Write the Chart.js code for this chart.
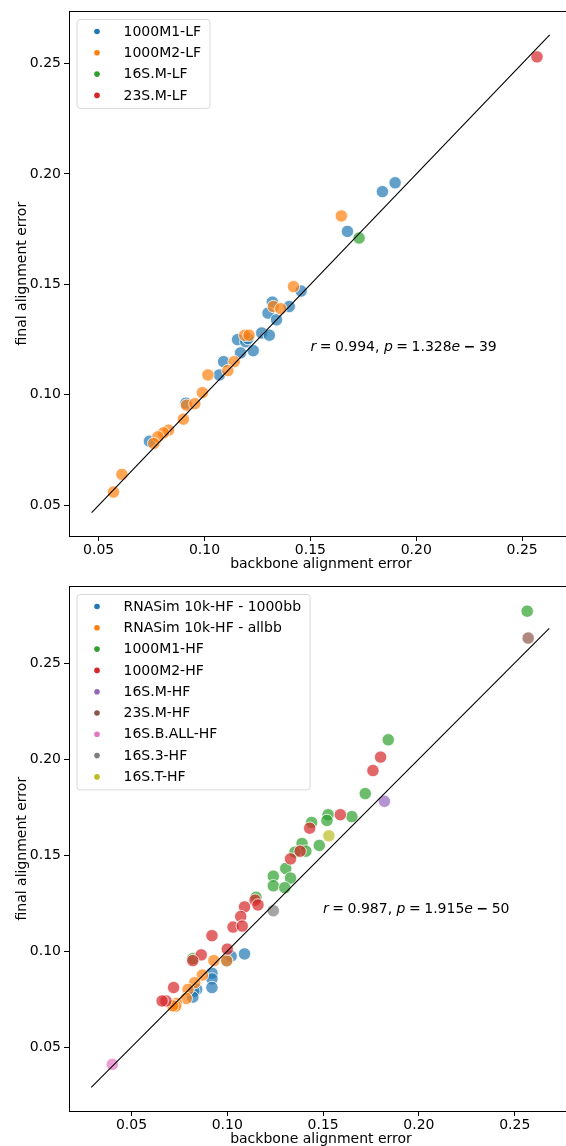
<!DOCTYPE html>
<html>
<head>
<meta charset="utf-8">
<script src="https://cdn.jsdelivr.net/npm/chart.js@4.4.1/dist/chart.umd.min.js"></script>
<style>
  html, body { margin: 0; padding: 0; background: #fff; overflow: hidden; }
  .panel { position: absolute; left: 0; width: 580px; height: 573px; }
  #p1 { top: 0; }
  #p2 { top: 575px; }
</style>
</head>
<body>
<div class="panel" id="p1"><canvas id="c1" width="580" height="573"></canvas></div>
<div class="panel" id="p2"><canvas id="c2" width="580" height="573"></canvas></div>
<script>
const tab10 = ['#1f77b4', '#ff7f0e', '#2ca02c', '#d62728', '#9467bd', '#8c564b', '#e377c2', '#7f7f7f', '#bcbd22'];
const axisTicks = [0.05, 0.10, 0.15, 0.20, 0.25];

// ---- top panel (LF) ----
const lfNames = ['1000M1-LF', '1000M2-LF', '16S.M-LF', '23S.M-LF'];
const lf1000M1 = [[0.190, 0.196], [0.184, 0.192], [0.1675, 0.174], [0.1456, 0.147], [0.132, 0.142], [0.140, 0.140],
  [0.130, 0.137], [0.134, 0.134], [0.127, 0.128], [0.1306, 0.127], [0.1156, 0.125], [0.1195, 0.124], [0.1205, 0.1255],
  [0.123, 0.120], [0.117, 0.119], [0.109, 0.115], [0.107, 0.109], [0.0912, 0.0962], [0.074, 0.079]];
const lf1000M2 = [[0.1646, 0.181], [0.142, 0.149], [0.1325, 0.140], [0.136, 0.139], [0.119, 0.127], [0.121, 0.127],
  [0.114, 0.115], [0.111, 0.111], [0.1016, 0.109], [0.099, 0.101], [0.0915, 0.0953], [0.0954, 0.096], [0.090, 0.089],
  [0.083, 0.084], [0.0806, 0.0828], [0.078, 0.081], [0.076, 0.078], [0.061, 0.064], [0.057, 0.056]];
const lf16SM = [[0.173, 0.171]];
const lf23SM = [[0.257, 0.253]];
const lfLine = [0.0467, 0.263];
const lfXRange = [0.036, 0.274];
const lfYRange = [0.0361, 0.2736];
const lfStat = ['0.994', '1.328', '39'];

// ---- bottom panel (HF) ----
const hfNames = ['RNASim 10k-HF - 1000bb', 'RNASim 10k-HF - allbb', '1000M1-HF', '1000M2-HF', '16S.M-HF',
  '23S.M-HF', '16S.B.ALL-HF', '16S.3-HF', '16S.T-HF'];
const hfRna1000 = [[0.109, 0.0985], [0.102, 0.0973], [0.0997, 0.0947], [0.092, 0.0885], [0.092, 0.0855], [0.092, 0.081],
  [0.084, 0.080], [0.0825, 0.079], [0.082, 0.076]];
const hfRnaAll = [[0.0997, 0.095], [0.093, 0.095], [0.087, 0.0875], [0.083, 0.0835], [0.0795, 0.080], [0.0786, 0.0753],
  [0.0735, 0.0727], [0.073, 0.0712], [0.0715, 0.0715]];
const hf1000M1 = [[0.2565, 0.277], [0.184, 0.210], [0.172, 0.182], [0.165, 0.170], [0.1526, 0.171], [0.152, 0.168],
  [0.144, 0.167], [0.148, 0.155], [0.139, 0.156], [0.141, 0.152], [0.1353, 0.1515], [0.1305, 0.143], [0.124, 0.139],
  [0.133, 0.138], [0.124, 0.134], [0.130, 0.133], [0.115, 0.128], [0.082, 0.096]];
const hf1000M2 = [[0.180, 0.201], [0.176, 0.194], [0.159, 0.171], [0.143, 0.164], [0.138, 0.152], [0.133, 0.148],
  [0.1145, 0.1265], [0.116, 0.124], [0.109, 0.123], [0.107, 0.118], [0.103, 0.1125], [0.1078, 0.113], [0.092, 0.108],
  [0.100, 0.101], [0.0864, 0.098], [0.082, 0.095], [0.072, 0.081], [0.068, 0.074], [0.066, 0.074]];
const hf16SM = [[0.182, 0.178]];
const hf23SM = [[0.257, 0.263]];
const hf16SBAll = [[0.040, 0.041]];
const hf16S3 = [[0.124, 0.121]];
const hf16ST = [[0.153, 0.160]];
const hfLine = [0.029, 0.268];
const hfXRange = [0.0174, 0.2804];
const hfYRange = [0.0167, 0.2899];
const hfStat = ['0.987', '1.915', '50'];

const FONT = '"DejaVu Sans", sans-serif';

function withAlpha(hex, a) {
  const n = parseInt(hex.slice(1), 16);
  return `rgba(${(n >> 16) & 255},${(n >> 8) & 255},${n & 255},${a})`;
}

// framed legend in the upper left, like matplotlib's
const boxLegend = {
  id: 'boxLegend',
  afterDraw(chart, args, opts) {
    const ctx = chart.ctx;
    ctx.save();
    ctx.font = '14px ' + FONT;
    const textX = 123.5;
    const maxW = Math.max(...opts.names.map(n => ctx.measureText(n).width));
    const x0 = 77, y0 = 19.5, rowH = 21.3;
    const w = textX + maxW + 9 - x0;
    const h = (opts.names.length - 1) * rowH + 25;
    ctx.fillStyle = 'rgba(255,255,255,0.8)';
    ctx.strokeStyle = '#d9d9d9';
    ctx.lineWidth = 1;
    ctx.beginPath();
    ctx.roundRect(x0, y0, w, h, 3);
    ctx.fill();
    ctx.stroke();
    ctx.textBaseline = 'middle';
    opts.names.forEach((name, i) => {
      const cy = y0 + 12 + i * rowH;
      ctx.fillStyle = tab10[i];
      ctx.beginPath();
      ctx.arc(97, cy, 2.8, 0, Math.PI * 2);
      ctx.fill();
      ctx.fillStyle = '#000';
      ctx.fillText(name, textX, cy + 0.5);
    });
    ctx.restore();
  }
};

// r / p annotation plus the top frame line
const statText = {
  id: 'statText',
  afterDraw(chart, args, opts) {
    const {ctx, chartArea, scales} = chart;
    ctx.save();
    ctx.strokeStyle = '#000';
    ctx.lineWidth = 1;
    ctx.beginPath();
    ctx.moveTo(chartArea.left, Math.round(chartArea.top) + 0.5);
    ctx.lineTo(chartArea.right, Math.round(chartArea.top) + 0.5);
    ctx.stroke();

    const [r, p, ex] = opts.stat;
    // [text, font style, gap after]
    const parts = [
      ['r', 'italic ', 3.5], ['=', '', 3.5], [r + ',', '', 4.5], ['p', 'italic ', 3.5], ['=', '', 3.5],
      [p, '', 0], ['e', 'italic ', 3.5], ['−', 'bold ', 3.5], [ex, '', 0]
    ];
    let x = scales.x.getPixelForValue(0.15);
    const y = scales.y.getPixelForValue(0.12);
    ctx.fillStyle = '#000';
    ctx.textBaseline = 'alphabetic';
    parts.forEach(([t, style, gap]) => {
      ctx.font = style + '14px ' + FONT;
      ctx.fillText(t, x, y);
      x += ctx.measureText(t).width + gap;
    });
    ctx.restore();
  }
};

function makeChart(id, names, series, line, xr, yr, stat) {
  const datasets = series.map((pts, i) => ({
    label: names[i],
    data: pts.map(([x, y]) => ({x, y})),
    backgroundColor: withAlpha(tab10[i], 0.7),
    borderColor: '#ffffff',
    borderWidth: 0.8,
    pointRadius: 6.2,
    order: 100 - i
  }));
  datasets.push({
    label: 'fit',
    data: line.map(v => ({x: v, y: v})),
    showLine: true,
    borderColor: '#000',
    borderWidth: 1.1,
    pointRadius: 0,
    order: 0
  });

  const axis = (range, title, isX) => ({
    type: 'linear',
    min: range[0],
    max: range[1],
    afterBuildTicks: s => { s.ticks = axisTicks.map(v => ({value: v})); },
    afterFit: s => { if (isX) s.height = 37; else s.width = 69; },
    grid: {display: true, drawOnChartArea: false, drawTicks: true, tickLength: 5, color: '#000', lineWidth: 1},
    border: {display: true, color: '#000', width: 1},
    ticks: {
      color: '#000',
      font: {family: FONT, size: 14},
      padding: isX ? 1 : 3,
      maxRotation: 0,
      callback: v => v.toFixed(2)
    },
    title: {
      display: true,
      text: title,
      color: '#000',
      font: {family: FONT, size: 14},
      padding: isX ? {top: 0, bottom: 0} : {top: 14, bottom: 0}
    }
  });

  return new Chart(document.getElementById(id), {
    type: 'scatter',
    data: {datasets},
    options: {
      responsive: false,
      animation: false,
      devicePixelRatio: 1,
      layout: {padding: {top: 11, left: 0, right: 0, bottom: 0}},
      scales: {
        x: axis(xr, 'backbone alignment error', true),
        y: axis(yr, 'final alignment error', false)
      },
      plugins: {
        legend: {display: false},
        tooltip: {enabled: false},
        boxLegend: {names},
        statText: {stat}
      }
    },
    plugins: [statText, boxLegend]
  });
}

makeChart('c1', lfNames, [lf1000M1, lf1000M2, lf16SM, lf23SM], lfLine, lfXRange, lfYRange, lfStat);
makeChart('c2', hfNames, [hfRna1000, hfRnaAll, hf1000M1, hf1000M2, hf16SM, hf23SM, hf16SBAll, hf16S3, hf16ST],
  hfLine, hfXRange, hfYRange, hfStat);
</script>
</body>
</html>
